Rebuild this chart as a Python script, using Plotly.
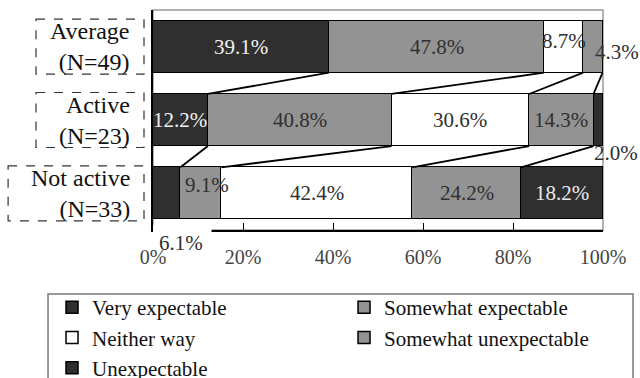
import numpy as np
import plotly.graph_objects as go

# ---- data -------------------------------------------------------------
groups = ["Average<br>(N=49)", "Active<br>(N=23)", "Not active<br>(N=33)"]
series_names = ["Very expectable", "Somewhat expectable", "Neither way",
                "Somewhat unexpectable", "Unexpectable"]
very_expectable = [39.1, 12.2, 6.1]
somewhat_expectable = [47.8, 40.8, 9.1]
neither_way = [8.7, 30.6, 42.4]
somewhat_unexpectable = [4.3, 14.3, 24.2]
unexpectable = [0.0, 2.0, 18.2]
x_ticks = [0, 20, 40, 60, 80, 100]

# ---- styling ----------------------------------------------------------
series_values = [very_expectable, somewhat_expectable, neither_way,
                 somewhat_unexpectable, unexpectable]
fills = ["#2f2f2f", "#939393", "#ffffff", "#939393", "#2f2f2f"]
label_colors = ["#f2f2f2", "#303030", "#303030", "#303030", "#eaeaea"]
OUTSIDE_COLOR = "#303030"
SERIF = "'Liberation Serif', 'DejaVu Serif', 'Times New Roman', serif"
BAR_W = 0.71
# pixel nudges for labels that sit off-centre: (series, group) -> (dx, dy, outside)
label_nudge = {(2, 0): (0, 6, False), (3, 0): (24, -5, True),
               (4, 1): (18, -33, True), (0, 2): (14, -50, True),
               (1, 2): (6, 8, False)}
# left edge of each dashed category box (paper-x)
box_left = [-0.26, -0.26, -0.322]

ypos = np.arange(len(groups))
vals = np.array(series_values, dtype=float)
cum = np.cumsum(vals, axis=0)
starts = cum - vals

fig = go.Figure()

for k, name in enumerate(series_names):
    fig.add_trace(go.Bar(
        y=ypos, x=series_values[k], name=name, orientation="h",
        width=BAR_W, marker=dict(color=fills[k], line=dict(color="#000000", width=1.5)),
        hoverinfo="skip",
    ))

# series lines joining cumulative boundaries of neighbouring bars
for k in range(len(series_names) - 1):
    for i in range(len(groups) - 1):
        fig.add_trace(go.Scatter(
            x=[cum[k][i], cum[k][i + 1]],
            y=[ypos[i] + BAR_W / 2, ypos[i + 1] - BAR_W / 2],
            mode="lines", line=dict(color="#000000", width=1.8),
            showlegend=False, hoverinfo="skip",
        ))

annotations = []
for k in range(len(series_names)):
    for i in range(len(groups)):
        v = vals[k][i]
        if v <= 0:
            continue
        dx, dy, outside = label_nudge.get((k, i), (0, 0, False))
        annotations.append(dict(
            x=starts[k][i] + v / 2, y=ypos[i], xref="x", yref="y",
            text=f"{v:.1f}%", showarrow=False, xshift=dx, yshift=dy,
            font=dict(family=SERIF, size=21,
                      color=OUTSIDE_COLOR if outside else label_colors[k]),
        ))

# category labels with dashed frames
shapes = []
for i, g in enumerate(groups):
    annotations.append(dict(
        x=-0.047, y=ypos[i], xref="paper", yref="y", xanchor="right",
        text=g, align="right", showarrow=False,
        font=dict(family=SERIF, size=24, color="#111111"),
    ))
    shapes.append(dict(
        type="rect", xref="paper", yref="y",
        x0=box_left[i], x1=-0.02, y0=ypos[i] - 0.375, y1=ypos[i] + 0.375,
        line=dict(color="#333333", width=1.2, dash="dash"),
    ))

# light grey frame round the plotting area
shapes.append(dict(type="rect", xref="x domain", yref="y domain",
                   x0=0, x1=1, y0=0, y1=1, layer="below",
                   line=dict(color="#9a9a9a", width=1.5)))
# the 6.1% label sits over the axis line, hiding its left end
shapes.append(dict(type="rect", xref="x", yref="paper", x0=0, x1=13,
                   y0=-0.02, y1=0.022, layer="above",
                   fillcolor="#ffffff", line=dict(width=0)))
# legend frame (runs past the bottom edge of the page)
shapes.append(dict(type="rect", xref="paper", yref="paper",
                   x0=-0.2333, x1=1.0667, y0=-0.75, y1=-0.291, layer="below",
                   line=dict(color="#7a7a7a", width=1.5)))

fig.update_layout(
    width=640, height=378,
    margin=dict(l=153, r=37, t=10, b=148, autoexpand=False),
    paper_bgcolor="#ffffff", plot_bgcolor="#ffffff",
    barmode="stack", bargap=0,
    showlegend=True,
    legend=dict(
        orientation="h", x=-0.2244, xanchor="left", y=-0.259, yanchor="top",
        entrywidth=247, entrywidthmode="pixels", traceorder="normal",
        font=dict(family=SERIF, size=21, color="#111111"),
        bgcolor="rgba(0,0,0,0)", borderwidth=0,
        itemclick=False, itemdoubleclick=False,
    ),
    xaxis=dict(
        range=[0, 100], tickvals=x_ticks, ticktext=[f"{t}%" for t in x_ticks],
        showgrid=False, zeroline=False, showline=True, linecolor="#000000",
        linewidth=1.5, ticks="inside", ticklen=7, tickcolor="#000000",
        tickwidth=1.2, ticklabelstandoff=8,
        tickfont=dict(family=SERIF, size=20, color="#444444"),
        fixedrange=True,
    ),
    yaxis=dict(
        range=[2.5, -0.5], showticklabels=False, ticks="", showgrid=False,
        zeroline=False, showline=True, linecolor="#000000", linewidth=1.5,
        fixedrange=True,
    ),
    annotations=annotations,
    shapes=shapes,
)

fig.write_html("out.html")
